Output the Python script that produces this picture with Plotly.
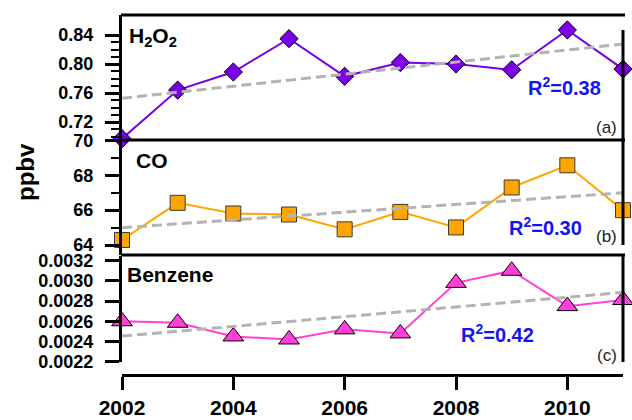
import numpy as np
import plotly.graph_objects as go

# Annual means, 2002-2011
years = [2002, 2003, 2004, 2005, 2006, 2007, 2008, 2009, 2010, 2011]
h2o2 = [0.697, 0.764, 0.789, 0.835, 0.783, 0.802, 0.800, 0.792, 0.847, 0.793]
co = [64.29, 66.42, 65.81, 65.75, 64.90, 65.90, 65.01, 67.30, 68.57, 66.00]
benzene = [0.00260, 0.002585, 0.00245, 0.00242, 0.00252, 0.00248, 0.00298, 0.00310, 0.00275, 0.00281]

panel_names = ["H<sub>2</sub>O<sub>2</sub>", "CO", "Benzene"]
r2_labels = ["R<sup>2</sup>=0.38", "R<sup>2</sup>=0.30", "R<sup>2</sup>=0.42"]
panel_tags = ["(a)", "(b)", "(c)"]
x_ticks = [2002, 2004, 2006, 2008, 2010]

FONT = "Liberation Sans, Arial, sans-serif"
TREND = "#b3b3b3"

series = [
    dict(y=h2o2, axis="y", color="#7a00e6", symbol="diamond", size=14, outline="#000000"),
    dict(y=co, axis="y2", color="#ffa500", symbol="square", size=15, outline="#3a3a3a"),
    dict(y=benzene, axis="y3", color="#ff40d8", symbol="triangle-up", size=18, outline="#000000"),
]

fig = go.Figure()
x_arr = np.array(years, dtype=float)
for s in series:
    fig.add_trace(go.Scatter(
        x=years, y=s["y"], yaxis=s["axis"], mode="lines+markers",
        line=dict(color=s["color"], width=2),
        marker=dict(symbol=s["symbol"], size=s["size"], color=s["color"],
                    line=dict(color=s["outline"], width=1)),
        cliponaxis=False, showlegend=False,
    ))
    # least-squares linear trend
    slope, intercept = np.polyfit(x_arr, np.array(s["y"]), 1)
    ends = [years[0], years[-1]]
    fig.add_trace(go.Scatter(
        x=ends, y=[slope * e + intercept for e in ends], yaxis=s["axis"], mode="lines",
        line=dict(color=TREND, width=3, dash="10px,5px"),
        cliponaxis=False, showlegend=False,
    ))

tick_font = dict(family=FONT, size=18, color="black", weight="bold")
y_common = dict(showline=True, linewidth=3, linecolor="black", ticks="outside",
                ticklen=14, tickwidth=3, tickcolor="black", showgrid=False,
                zeroline=False, tickfont=tick_font, anchor="x", ticklabelstandoff=8)

l, r, t, b = 122, 9, 15, 45
W, H = 632, 420
ph = H - t - b
pw = W - l - r


def py(pix):
    return (H - b - pix) / ph


def px(pix):
    return (pix - l) / pw


fig.update_layout(
    width=W, height=H, margin=dict(l=l, r=r, t=t, b=b, autoexpand=False),
    paper_bgcolor="white", plot_bgcolor="white",
    font=dict(family=FONT, color="black"),
    xaxis=dict(range=[2002, 2011], anchor="free", position=0, tickvals=x_ticks,
               showline=True, linewidth=3, linecolor="black", ticks="outside",
               ticklen=13, tickwidth=3, tickcolor="black", showgrid=False, zeroline=False,
               ticklabelstandoff=0,
               tickfont=dict(family=FONT, size=21, color="black", weight="bold")),
    yaxis=dict(domain=[py(140), 1.0], range=[0.6952, 0.8676], tick0=0.72, dtick=0.04,
               tickformat=".2f",
               minor=dict(tickvals=[0.70, 0.71, 0.73, 0.74, 0.75, 0.77, 0.78, 0.79,
                                    0.81, 0.82, 0.83],
                          ticks="outside", ticklen=8, tickwidth=2,
                          tickcolor="black", showgrid=False),
               **y_common),
    yaxis2=dict(domain=[py(255), py(140)], range=[63.43, 70.02], tick0=64, dtick=2,
                minor=dict(dtick=1, ticks="outside", ticklen=8, tickwidth=2,
                           tickcolor="black", showgrid=False),
                **y_common),
    yaxis3=dict(domain=[py(362), py(256)], range=[0.002197, 0.003246], tick0=0.0022,
                dtick=0.0002, tickformat=".4f", **y_common),
)

# frame lines between and around panels
for yy in (15, 140, 255):
    fig.add_shape(type="line", xref="paper", yref="paper", x0=px(121), x1=px(625),
                  y0=py(yy), y1=py(yy), line=dict(color="black", width=3))
for y0, y1 in ((30, 245), (255, 362)):
    fig.add_shape(type="line", xref="paper", yref="paper", x0=px(623), x1=px(623),
                  y0=py(y0), y1=py(y1), line=dict(color="black", width=3))

name_pos = [(127, 37), (134, 160), (125, 274)]
for name, (xx, yy) in zip(panel_names, name_pos):
    fig.add_annotation(text=name, xref="paper", yref="paper", x=px(xx), y=py(yy),
                       xanchor="left", yanchor="middle", showarrow=False,
                       font=dict(family=FONT, size=21, color="black", weight="bold"))

r2_pos = [(526, 87), (507, 226), (459, 333)]
for lab, (xx, yy) in zip(r2_labels, r2_pos):
    fig.add_annotation(text=lab, xref="paper", yref="paper", x=px(xx), y=py(yy),
                       xanchor="left", yanchor="middle", showarrow=False,
                       font=dict(family=FONT, size=20, color="#1414f0", weight="bold"))

tag_y = [127, 236, 355]
for tag, yy in zip(panel_tags, tag_y):
    fig.add_annotation(text=tag, xref="paper", yref="paper", x=px(619), y=py(yy),
                       xanchor="right", yanchor="middle", showarrow=False,
                       font=dict(family=FONT, size=17, color="#222222"))

fig.add_annotation(text="ppbv", xref="paper", yref="paper", x=px(25), y=py(172),
                   xanchor="center", yanchor="middle", textangle=-90, showarrow=False,
                   font=dict(family=FONT, size=24, color="black", weight="bold"))

fig.write_html("out.html")
